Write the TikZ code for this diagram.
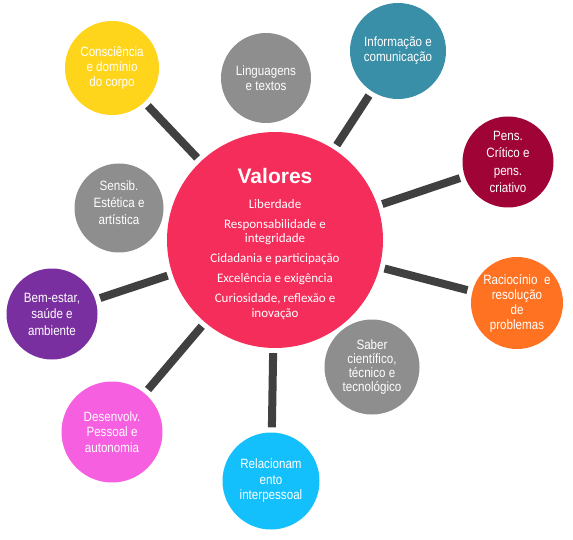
\documentclass[tikz,border=0pt]{standalone}
\usepackage{fontspec}
\setmainfont{Liberation Sans}
\newfontfamily\satfont{Liberation Sans}[FakeStretch=0.86]
\newfontfamily\calfont{Carlito}
\definecolor{cmain}{HTML}{F52D5A}
\definecolor{cgray}{HTML}{8E8E8E}
\definecolor{cyellow}{HTML}{FFD51C}
\definecolor{cteal}{HTML}{3A8FA8}
\definecolor{ccrimson}{HTML}{A00436}
\definecolor{corange}{HTML}{FF7222}
\definecolor{ccyan}{HTML}{14C0FC}
\definecolor{cmagenta}{HTML}{F55FE0}
\definecolor{cpurple}{HTML}{7A2FA0}
\definecolor{cline}{HTML}{404040}
\begin{document}
\begin{tikzpicture}[x=1pt,y=-1pt,
  sat/.style={circle,inner sep=0pt,minimum size=#1,text=white,align=center,
    font=\satfont\fontsize{13.5}{15}\selectfont},
  conn/.style={draw=cline,line width=8pt,shorten <=5pt,shorten >=5pt}]
\useasboundingbox (0,0) rectangle (573,540);
% central
\node[circle,fill=cmain,minimum size=216pt,inner sep=0pt] (c) at (275,240) {};
\node[text=white,align=center,font=\calfont\fontsize{13}{14.5}\selectfont] (ct) at (275,244)
 {{\fontspec{Liberation Sans}\bfseries\fontsize{21}{22}\selectfont Valores}\\[10pt]
  Liberdade\\[5.5pt]
  Responsabilidade e\\ integridade\\[5.5pt]
  Cidadania e participação\\[5.5pt]
  Excelência e exigência\\[5.5pt]
  Curiosidade, reflexão e\\ inovação};
% satellites
\node[sat=94pt,fill=cyellow] (s1) at (112,68) {Consciência\\e domínio\\do corpo};
\node[sat=90pt,fill=cgray] (s2) at (266,78) {Linguagens\\e textos};
\node[sat=96pt,fill=cteal] (s3) at (398,51) {Informação e\\comunicação};
\node[sat=91pt,fill=ccrimson,font=\satfont\fontsize{13.5}{17.5}\selectfont] (s4) at (508,162) {Pens.\\Crítico e\\pens.\\criativo};
\node[sat=92pt,fill=corange] (s5) at (517,303) {Raciocínio\enspace e\\resolução\\de\\problemas};
\node[sat=95pt,fill=cgray,font=\satfont\fontsize{13.5}{14}\selectfont] (s6) at (372,367) {Saber\\científico,\\técnico e\\tecnológico};
\node[sat=97pt,fill=ccyan,font=\satfont\fontsize{13.5}{15.5}\selectfont] (s7) at (271,481) {Relacionam\\ento\\interpessoal};
\node[sat=101pt,fill=cmagenta,font=\satfont\fontsize{13.5}{15.5}\selectfont] (s8) at (112,432) {Desenvolv.\\Pessoal e\\autonomia};
\node[sat=91pt,fill=cpurple,font=\satfont\fontsize{13.5}{16.5}\selectfont] (s9) at (52,314) {Bem-estar,\\saúde e\\ambiente};
\node[sat=89pt,fill=cgray,font=\satfont\fontsize{13.5}{17}\selectfont,text depth=10pt] (s10) at (119,208) {Sensib.\\Estética e\\artística};
% connectors
\draw[conn] (s1) -- (c);
\draw[conn] (s3) -- (c);
\draw[conn] (s4) -- (c);
\draw[conn] (s5) -- (c);
\draw[conn] (s7) -- (c);
\draw[conn] (s8) -- (c);
\draw[conn] (s9) -- (c);
\end{tikzpicture}
\end{document}
